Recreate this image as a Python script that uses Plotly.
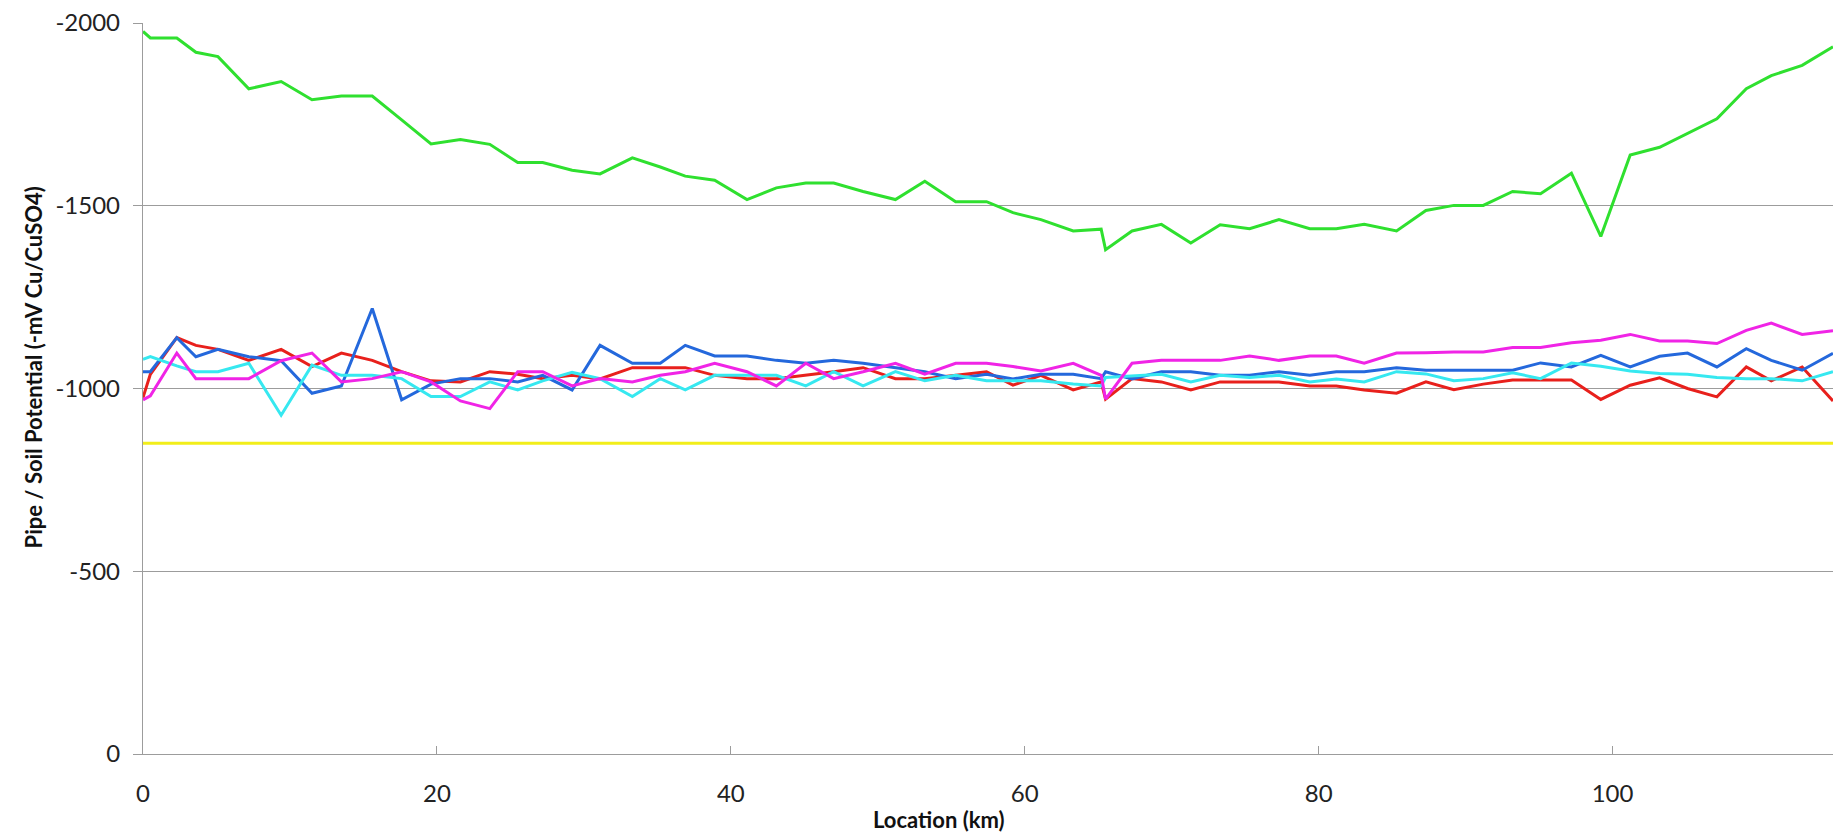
import plotly.graph_objects as go

# Survey locations along the pipeline (km)
location_km = [
    0.0, 0.5, 2.3, 3.6, 5.1, 7.2, 9.4, 11.5, 13.5, 15.6,
    17.6, 19.6, 21.6, 23.6, 25.5, 27.2, 29.2, 31.1, 33.3, 35.2,
    36.9, 38.9, 41.1, 43.1, 45.1, 47.0, 49.0, 51.2, 53.2, 55.3,
    57.4, 59.2, 61.1, 63.3, 65.2, 65.5, 67.3, 69.3, 71.3, 73.3,
    75.3, 77.3, 79.4, 81.2, 83.1, 85.3, 87.3, 89.2, 91.2, 93.2,
    95.1, 97.2, 99.2, 101.2, 103.2, 105.1, 107.1, 109.1, 110.8, 112.9,
    115.0,
]

# Pipe-to-soil potentials (mV vs Cu/CuSO4)
green_mv = [
    -1977, -1959, -1959, -1920, -1908, -1820, -1840, -1790, -1800, -1800,
    -1735, -1669, -1681, -1668, -1618, -1618, -1597, -1587, -1631, -1606,
    -1581, -1570, -1517, -1549, -1562, -1562, -1539, -1517, -1567, -1511,
    -1511, -1481, -1462, -1431, -1436, -1380, -1431, -1449, -1398, -1448,
    -1437, -1462, -1437, -1437, -1449, -1431, -1487, -1501, -1501, -1539,
    -1533, -1589, -1416, -1639, -1660, -1697, -1738, -1820, -1856, -1884,
    -1935,
]
red_mv = [
    -975, -1039, -1139, -1118, -1107, -1077, -1107, -1060, -1097, -1077,
    -1046, -1021, -1018, -1046, -1039, -1027, -1036, -1026, -1057, -1057,
    -1057, -1036, -1027, -1027, -1036, -1046, -1057, -1027, -1027, -1036,
    -1046, -1009, -1036, -996, -1018, -971, -1027, -1018, -996, -1018,
    -1018, -1018, -1007, -1007, -996, -987, -1018, -997, -1012, -1023,
    -1023, -1023, -970, -1009, -1029, -1000, -977, -1059, -1021, -1059,
    -966,
]
blue_mv = [
    -1046, -1046, -1139, -1087, -1107, -1087, -1076, -987, -1007, -1219,
    -969, -1012, -1027, -1027, -1018, -1036, -996, -1118, -1069, -1069,
    -1118, -1089, -1089, -1077, -1069, -1077, -1069, -1057, -1046, -1027,
    -1039, -1026, -1039, -1039, -1027, -1046, -1026, -1046, -1046, -1036,
    -1036, -1046, -1036, -1046, -1046, -1057, -1050, -1050, -1050, -1050,
    -1070, -1059, -1091, -1059, -1088, -1097, -1059, -1109, -1077, -1050,
    -1096,
]
cyan_mv = [
    -1080, -1087, -1062, -1046, -1046, -1069, -927, -1064, -1036, -1036,
    -1027, -978, -978, -1018, -996, -1021, -1044, -1027, -978, -1027,
    -996, -1036, -1036, -1036, -1007, -1046, -1007, -1046, -1021, -1036,
    -1021, -1021, -1021, -1012, -1007, -1030, -1035, -1039, -1018, -1036,
    -1030, -1036, -1018, -1026, -1018, -1046, -1040, -1021, -1027, -1043,
    -1027, -1070, -1061, -1048, -1041, -1039, -1030, -1027, -1027, -1021,
    -1046,
]
magenta_mv = [
    -969, -980, -1097, -1027, -1027, -1027, -1076, -1097, -1018, -1027,
    -1046, -1018, -966, -945, -1046, -1046, -1007, -1027, -1018, -1036,
    -1046, -1069, -1046, -1007, -1069, -1027, -1046, -1069, -1039, -1069,
    -1069, -1060, -1048, -1069, -1036, -971, -1069, -1077, -1077, -1077,
    -1089, -1077, -1089, -1089, -1069, -1097, -1098, -1100, -1100, -1112,
    -1112, -1125, -1132, -1148, -1130, -1130, -1123, -1159, -1179, -1148,
    -1158,
]

# Protection criterion (mV)
criterion_mv = -850

y_tick_values = [-2000, -1500, -1000, -500, 0]
y_tick_labels = ["-2000", "-1500", "-1000", "-500", "0"]
x_tick_values = [0, 20, 40, 60, 80, 100]

series = [
    (green_mv, "#2fe02f"),
    (red_mv, "#e8201c"),
    (blue_mv, "#2468dc"),
    (cyan_mv, "#36e8f0"),
    (magenta_mv, "#f024e6"),
]

fig = go.Figure()

fig.add_trace(go.Scatter(
    x=[location_km[0], location_km[-1]],
    y=[criterion_mv, criterion_mv],
    mode="lines",
    line=dict(color="#f2ee1a", width=3),
    hoverinfo="skip",
))

for values, colour in series:
    fig.add_trace(go.Scatter(
        x=location_km,
        y=values,
        mode="lines",
        line=dict(color=colour, width=3),
    ))

axis_grey = "#9c9c9c"
tick_font = dict(family="Lato, Carlito, sans-serif", size=24, color="#222222")
title_font = dict(family="Lato, Carlito, sans-serif", size=22, color="#111111")

fig.update_layout(
    width=1841,
    height=837,
    margin=dict(l=143, r=8, t=23, b=83),
    paper_bgcolor="white",
    plot_bgcolor="white",
    showlegend=False,
    xaxis=dict(
        range=[0, 115],
        tickvals=x_tick_values,
        ticks="inside",
        ticklen=8,
        tickcolor=axis_grey,
        tickwidth=1.3,
        showgrid=False,
        zeroline=False,
        showline=True,
        linecolor=axis_grey,
        linewidth=1.3,
        tickfont=tick_font,
        ticklabelstandoff=18,
    ),
    yaxis=dict(
        range=[0, -2000],
        tickvals=y_tick_values,
        ticktext=y_tick_labels,
        ticks="outside",
        ticklen=9,
        tickcolor=axis_grey,
        tickwidth=1.3,
        showgrid=True,
        gridcolor=axis_grey,
        gridwidth=1.3,
        zeroline=False,
        showline=True,
        linecolor=axis_grey,
        linewidth=1.3,
        tickfont=tick_font,
        ticklabelstandoff=8,
    ),
    annotations=[
        dict(
            text="<b>Location (km)</b>",
            xref="paper", yref="paper",
            x=0.471, y=-0.089,
            xanchor="center", yanchor="middle",
            showarrow=False,
            font=title_font,
        ),
        dict(
            text="<b>Pipe / Soil Potential (-mV Cu/CuSO4)</b>",
            xref="paper", yref="paper",
            x=-0.065, y=0.529,
            xanchor="center", yanchor="middle",
            textangle=-90,
            showarrow=False,
            font=title_font,
        ),
    ],
)

fig.write_html("out.html")
